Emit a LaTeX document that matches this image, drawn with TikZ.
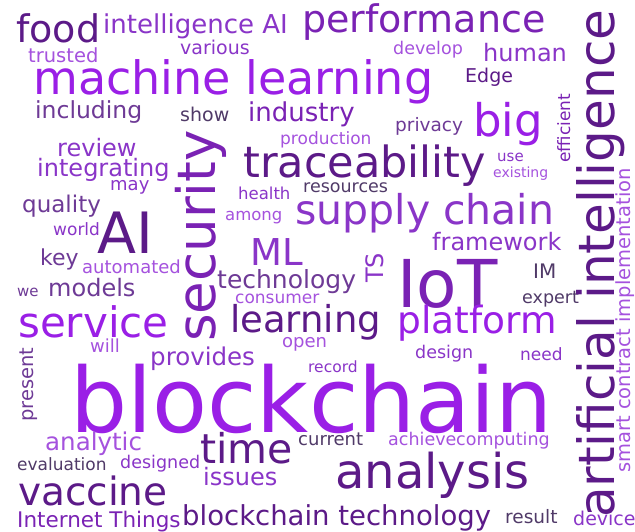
\documentclass[tikz,border=0pt]{standalone}
\usepackage{fontspec}
\setmainfont{DejaVu Sans}
\definecolor{cBright}{HTML}{9A1FE6}
\definecolor{cMid}{HTML}{8A35C8}
\definecolor{cDeep}{HTML}{7A22B4}
\definecolor{cDark}{HTML}{5C1A88}
\definecolor{cLight}{HTML}{A552DE}
\definecolor{cGrey}{HTML}{503A68}
\definecolor{cDusk}{HTML}{6E3A96}
\tikzset{word/.style 2 args={font=\fontsize{#1}{#1}\selectfont, text=#2, anchor=base west, inner sep=0pt}}
\begin{document}
\begin{tikzpicture}[x=1pt,y=-1pt]
    \path[use as bounding box, fill=white] (0,0) rectangle (635,532);
    \node[word={38}{cDark}] (food) at (16,43) {food};
    \node[word={26}{cMid}] (intelai) at (103,34) {intelligence AI};
    \node[word={38}{cDeep}] (perf) at (302,33) {performance};
    \node[word={19.5}{cLight}] (trusted) at (28,63) {trusted};
    \node[word={19}{cMid}] (various) at (180,55) {various};
    \node[word={17.5}{cLight}] (develop) at (393,55) {develop};
    \node[word={24}{cMid}] (human) at (483,62) {human};
    \node[word={46}{cBright}] (ml) at (33,95) {machine learning};
    \node[word={19}{cDark}] (edge) at (465,83) {Edge};
    \node[word={23.5}{cDusk}] (including) at (35,119) {including};
    \node[word={19}{cGrey}] (show) at (180,122) {show};
    \node[word={26}{cDeep}] (industry) at (248,122) {industry};
    \node[word={45}{cBright}] (big) at (473,137) {big};
    \node[word={18.5}{cDusk}] (privacy) at (395,132) {privacy};
    \node[word={17}{cLight}] (production) at (280,145) {production};
    \node[word={24}{cMid}] (review) at (57,157) {review};
    \node[word={15}{cMid}] (use) at (497,162) {use};
    \node[word={24}{cMid}] (integrating) at (37,177) {integrating};
    \node[word={43}{cDark}] (trace) at (243,178) {traceability};
    \node[word={14}{cLight}] (existing) at (493,178) {existing};
    \node[word={18}{cMid}] (may) at (110,190) {may};
    \node[word={17.5}{cGrey}] (resources) at (303,193) {resources};
    \node[word={16.5}{cMid}] (health) at (238,200) {health};
    \node[word={23}{cDusk}] (quality) at (22,212) {quality};
    \node[word={16.5}{cLight}] (among) at (225,220) {among};
    \node[word={41}{cMid}] (supply) at (295,224) {supply chain};
    \node[word={17}{cMid}] (world) at (53,235) {world};
    \node[word={57}{cDark}] (ai) at (97,253) {AI};
    \node[word={24}{cMid}] (framework) at (432,250) {framework};
    \node[word={22}{cDusk}] (key) at (40,265) {key};
    \node[word={37}{cMid}] (mlshort) at (250,265) {ML};
    \node[word={18}{cLight}] (automated) at (82,273) {automated};
    \node[word={20}{cGrey}] (im) at (533,278) {IM};
    \node[word={25}{cDusk}] (technology) at (217,288) {technology};
    \node[word={15}{cDusk}] (we) at (17,296) {we};
    \node[word={24}{cDusk}] (models) at (48,296) {models};
    \node[word={17}{cLight}] (consumer) at (235,303) {consumer};
    \node[word={17.5}{cGrey}] (expert) at (522,303) {expert};
    \node[word={66}{cDeep}] (iot) at (397,307) {IoT};
    \node[word={37}{cDark}] (learning) at (230,332) {learning};
    \node[word={37.5}{cBright}] (platform) at (397,333) {platform};
    \node[word={42}{cBright}] (service) at (18,337) {service};
    \node[word={18}{cLight}] (open) at (282,347) {open};
    \node[word={18}{cLight}] (will) at (90,352) {will};
    \node[word={17.5}{cMid}] (design) at (415,358) {design};
    \node[word={17}{cMid}] (need) at (520,360) {need};
    \node[word={24.5}{cMid}] (provides) at (150,365) {provides};
    \node[word={15.5}{cMid}] (record) at (308,372) {record};
    \node[word={90}{cBright}] (blockchain) at (70,432) {blockchain};
    \node[word={18}{cGrey}] (current) at (298,445) {current};
    \node[word={17.5}{cLight}] (achieve) at (388,445) {achieve};
    \node[word={17.5}{cLight}] (computing) at (456,445) {computing};
    \node[word={24.5}{cLight}] (analytic) at (45,450) {analytic};
    \node[word={41}{cDark}] (time) at (200,463) {time};
    \node[word={17.5}{cMid}] (designed) at (120,468) {designed};
    \node[word={17}{cGrey}] (evaluation) at (17,470) {evaluation};
    \node[word={24}{cMid}] (issues) at (203,485) {issues};
    \node[word={48}{cDark}] (analysis) at (335,488) {analysis};
    \node[word={39}{cDark}] (vaccine) at (18,505) {vaccine};
    \node[word={18.5}{cGrey}] (result) at (505,523) {result};
    \node[word={27.5}{cDark}] (bctech) at (182,525) {blockchain technology};
    \node[word={19}{cMid}] (device) at (573,525) {device};
    \node[word={21.5}{cDeep}] (internet) at (17,527) {Internet Things};
    \node[word={53}{cDeep}, rotate=90] (security) at (215,342) {security};
    \node[word={19.5}{cDusk}, rotate=90] (present) at (34,422) {present};
    \node[word={24}{cMid}, rotate=90] (ts) at (383,283) {TS};
    \node[word={17}{cDeep}, rotate=90] (efficient) at (570,163) {efficient};
    \node[word={50}{cDark}, rotate=90] (artintel) at (614,518) {artificial intelligence};
    \node[word={19.5}{cLight}, rotate=90] (smart) at (630,473) {smart contract implementation};
\end{tikzpicture}
\end{document}
